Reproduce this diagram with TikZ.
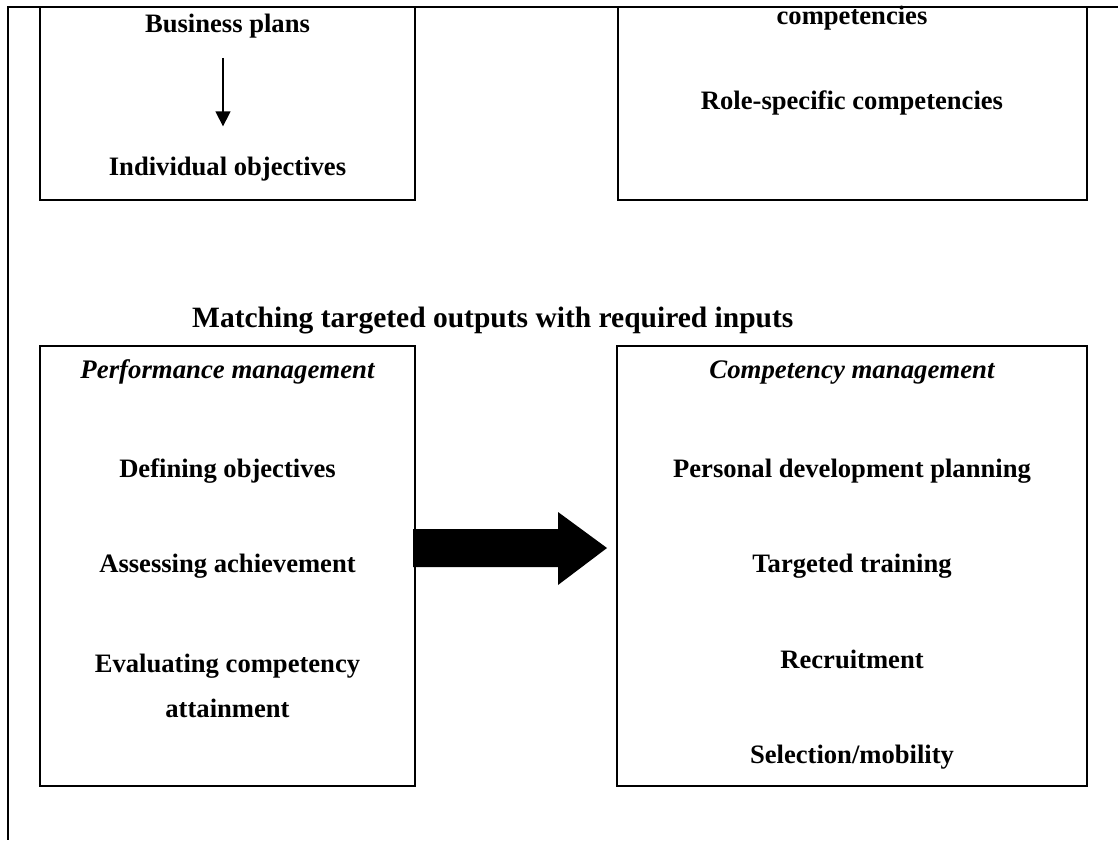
\documentclass[tikz,border=0pt]{standalone}
\usepackage{fontspec}
\setmainfont{Liberation Serif}
\usetikzlibrary{arrows.meta}

\begin{document}
\begin{tikzpicture}
  [x=1pt,y=-1pt,every node/.style={inner sep=0pt,anchor=base,font=\fontsize{26.6}{32}\selectfont\bfseries}]
  \tikzstyle{panel} = [draw,line width=2.6pt]
  \tikzstyle{heading} = [font=\fontsize{26.8}{32}\selectfont\bfseries\itshape]
  \tikzstyle{title} = [anchor=base west,font=\fontsize{29.5}{35}\selectfont\bfseries]
  \useasboundingbox (0,0) rectangle (1118,840);

  % page frame
  \draw[line width=2.6pt] (1118,7) -- (8,7) -- (8,840);

  % upper panels
  \draw[panel] (40,7) rectangle (415,200);
  \draw[panel] (618,7) rectangle (1087,200);
  \node (bp) at (227.5,33) {Business plans};
  \node (io) at (227.5,175) {Individual objectives};
  \node (cc) at (852,25) {competencies};
  \node (rs) at (852,110) {Role-specific competencies};
  \draw[line width=1.5pt,-{Triangle[width=15pt,length=15pt]},shorten <=19pt,shorten >=30pt]
    ([xshift=-4.5pt]bp.south) -- ([xshift=-4.5pt]io.north);

  \node[title] (match) at (192,327) {Matching targeted outputs with required inputs};

  % lower panels
  \draw[panel] (40,346) rectangle (415,786);
  \draw[panel] (617,346) rectangle (1087,786);
  \node[heading] (pm) at (227.5,378) {Performance management};
  \node[heading] (cm) at (852,378) {Competency management};

  \foreach \name/\y/\txt in {def/477/Defining objectives,ass/572/Assessing achievement,
      eva/672/Evaluating competency,att/717/attainment}
    \node (\name) at (227.5,\y) {\txt};
  \foreach \name/\y/\txt in {pdp/477/Personal development planning,tt/572/Targeted training,
      rec/668/Recruitment,sel/763/{Selection/mobility}}
    \node (\name) at (852,\y) {\txt};

  % block arrow between the panels
  \fill (413,529) -- (558,529) -- (558,512) -- (607,548) -- (558,585) -- (558,567) -- (413,567) -- cycle;

\end{tikzpicture}
\end{document}
